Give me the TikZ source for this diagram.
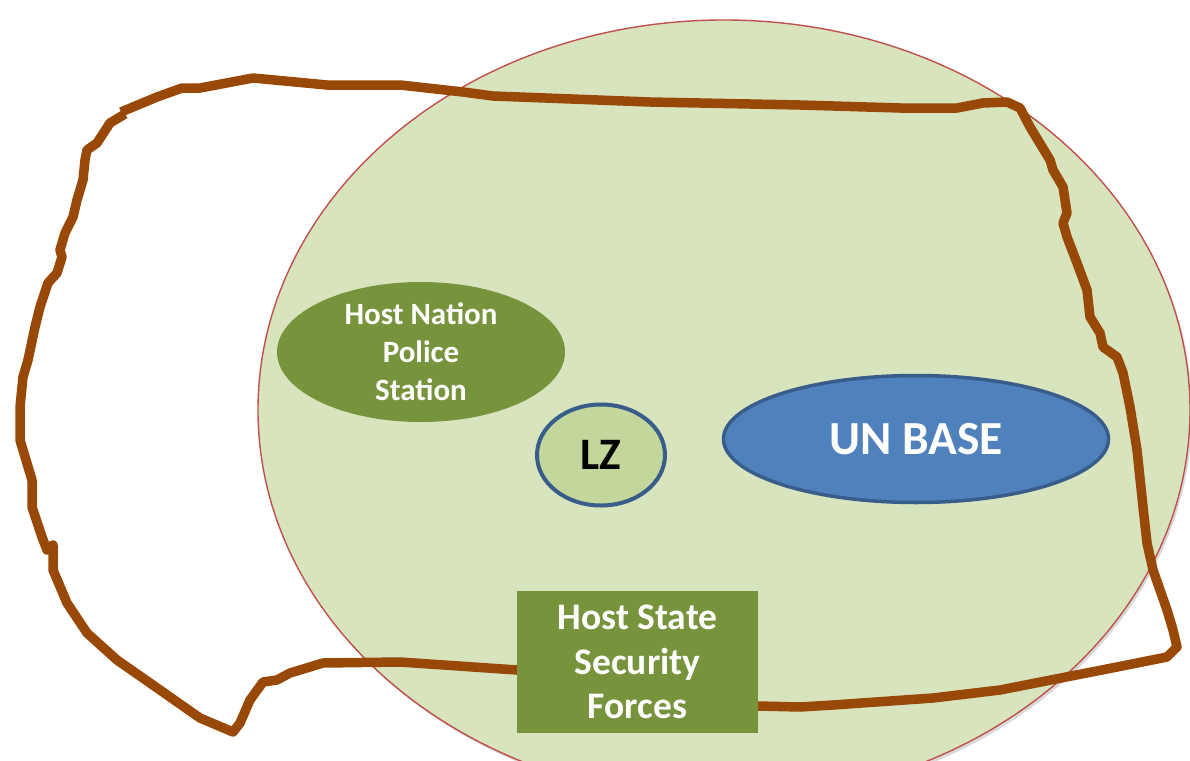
\documentclass[tikz,border=0pt]{standalone}
\usepackage{fontspec}
\setmainfont{Carlito}
\usetikzlibrary{shapes.geometric,shadows}
\definecolor{areafill}{HTML}{D7E4BD}
\definecolor{areadraw}{HTML}{C0504D}
\definecolor{brownline}{HTML}{984807}
\definecolor{olive}{HTML}{77933C}
\definecolor{lzfill}{HTML}{C3D69B}
\definecolor{bluedark}{HTML}{385D8A}
\definecolor{bluefill}{HTML}{4F81BD}
\tikzset{
  areashape/.style={ellipse, fill=areafill, draw=areadraw, line width=1.4pt, inner sep=0pt,
    drop shadow={shadow xshift=2pt, shadow yshift=-3pt, opacity=0.25, fill=black!60}},
  boundary/.style={draw=brownline, line width=9.5pt, line join=round},
  policeshape/.style={ellipse, fill=olive, inner sep=0pt, text=white, font=\bfseries\fontsize{31}{38}\selectfont, align=center},
  lzshape/.style={ellipse, fill=lzfill, draw=bluedark, line width=4pt, inner sep=0pt, text=black, font=\bfseries\fontsize{45}{54}\selectfont},
  baseshape/.style={ellipse, fill=bluefill, draw=bluedark, line width=3.5pt, inner sep=0pt, text=white, font=\bfseries\fontsize{47.5}{55}\selectfont},
  forcebox/.style={rectangle, fill=olive, inner sep=0pt, text=white, font=\bfseries\fontsize{37.5}{44.5}\selectfont, align=center}
}
\begin{document}
\begin{tikzpicture}[x=1pt,y=-1pt]
\useasboundingbox (0,0) rectangle (1190,760);
\clip (0,0) rectangle (1190,760);
\node[areashape, minimum width=932pt, minimum height=780pt] (area) at (724,410) {};
\draw[boundary] plot coordinates {(121,112) (157,97) (182,88) (200,88) (253,78) (327,85) (400,85) (463,92) (493,96) (650,102) (800,105) (900,108) (957,108) (983,103) (1007,102) (1020,108) (1030,127) (1050,160) (1053,170) (1063,187) (1067,213) (1063,223) (1067,237) (1077,263) (1087,290) (1090,317) (1100,333) (1103,347) (1117,357) (1123,373) (1130,407) (1137,450) (1143,507) (1147,543) (1153,570) (1167,610) (1173,630) (1177,647) (1167,657) (1117,667) (1000,690) (933,698) (833,705) (800,707) (758,706) (517,670) (400,662) (323,663) (290,673) (277,680) (263,682) (250,700) (240,723) (233,732) (200,718) (150,683) (117,660) (87,633) (67,603) (53,570) (53,545) (47,550) (42,537) (32,507) (32,480) (20,440) (20,407) (23,377) (28,360) (35,327) (40,307) (48,283) (57,273) (62,257) (60,250) (65,233) (73,217) (77,200) (83,180) (85,160) (87,150) (97,143) (110,123) (125,114)};
\node[policeshape, minimum width=288pt, minimum height=140pt] (police) at (421,352) {Host Nation\\Police\\Station};
\node[lzshape, minimum width=128pt, minimum height=101pt] (lz) at (601,455) {LZ};
\node[baseshape, minimum width=385pt, minimum height=127pt] (unbase) at (916,439) {UN BASE};
\node[forcebox, minimum width=241pt, minimum height=142pt] (forces) at (637.5,662) {Host State\\Security\\Forces};
\end{tikzpicture}
\end{document}
